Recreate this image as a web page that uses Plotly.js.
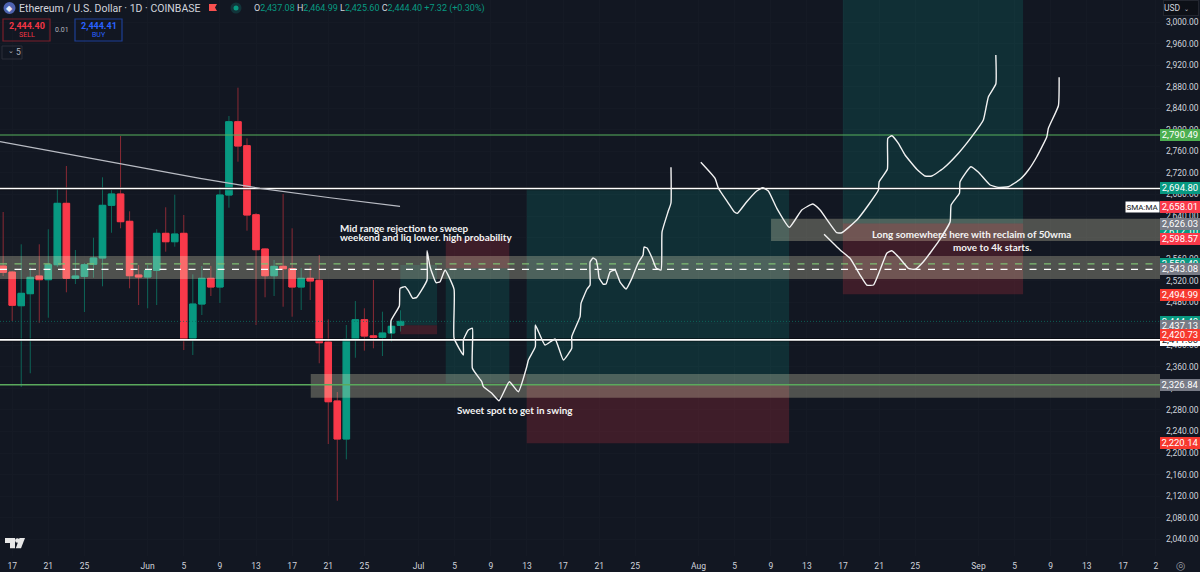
<!DOCTYPE html>
<html><head><meta charset="utf-8">
<script src="https://cdn.plot.ly/plotly-3.0.1.min.js"></script>
<style>html,body{margin:0;padding:0;background:#121722;overflow:hidden}#c{width:1200px;height:572px}</style>
</head><body><div id="c"></div>
<script>
// Candles: day number counted from 1 June (May 16 = -16)
const dayNums = [-16,-15,-14,-13,-12,-11,-10,-9,-8,-7,-6,-5,-4,-3,-2,-1,0,1,2,3,4,5,6,7,8,9,10,11,12,13,14,15,16,17,18,19,20,21,22,23,24,25,26,27,28];
const opens  = [2547.2,2536,2473.5,2495.8,2528.6,2521.8,2549.6,2663.6,2524.4,2528,2550.4,2562.1,2659.9,2680.9,2630.2,2530.5,2526.8,2539.2,2607.9,2592.3,2607.9,2413,2476.6,2524.4,2508.2,2679,2815.1,2770.6,2642.4,2578.8,2529.2,2546.6,2542.2,2508.2,2524.4,2520.7,2406.1,2296.6,2226,2411.1,2447.5,2417.5,2414.8,2422.8,2437.08];
const highs  = [2647.5,2538,2587.5,2544.8,2587.5,2615.4,2691.5,2732.9,2576.9,2552.8,2599.8,2711.9,2688.3,2788.6,2648.8,2549,2549,2615.4,2656.2,2679.6,2641.9,2531.8,2547.2,2547.2,2693.9,2825.7,2878.3,2784.3,2645.6,2580.6,2558.4,2680.9,2617.2,2543.5,2545.9,2567.6,2448.2,2313.3,2437.7,2482.2,2468.7,2521.2,2462.4,2445.1,2464.99];
const lows   = [2528.6,2445.1,2322.6,2348,2441.9,2451.2,2545.4,2498.4,2513.8,2461.8,2525.5,2509.5,2609,2617.2,2505.8,2474.8,2468.7,2474.8,2573.8,2583.1,2391.2,2382,2456.2,2491.5,2478.5,2655.5,2740.9,2612.8,2437.7,2489.1,2491.5,2471.6,2453.1,2465.5,2484.1,2366.6,2216.7,2111.4,2188.3,2376.9,2390,2394.4,2380.1,2406.7,2425.6];
const closes = [2535.5,2474.3,2496.5,2526.2,2521.8,2549.6,2663.6,2524.4,2528.6,2549.6,2562.1,2659.9,2680.9,2629.5,2529.2,2526.8,2539.2,2607.9,2592.3,2606.6,2411.7,2476.6,2524.4,2508.2,2679,2815.1,2770,2641.9,2577.5,2529.2,2546.6,2542.2,2508.2,2524.4,2519.4,2404.8,2295.2,2226,2411.1,2447.5,2417.2,2414.8,2422.8,2435.3,2444.4];

// Hand-drawn projection curves: day number / price
const curve1Days = [26.95,26.95,27.87,27.95,28.5,28.87,29.36,29.8,30.35,30.94,30.94,31.27,31.94,32.38,32.93,33.93,33.93,34.96,34.96,35.51,35.96,35.96,37,37.18,38.11,38.91,40.05,41.05,41.98,42.16,42.93,42.93,44,45.11,46.03,46.96,46.96,47.88,47.99,48.66,48.99,48.99,49.32,49.66,49.88,49.99,50.43,50.76,51.2,51.76,52.31,52.98,53.64,54.31,54.86,54.97,55.3,55.86,56.3,56.85,56.96,57.62,57.95,57.95];
const curve1Prices = [2422.3,2445.7,2473,2505.8,2508.8,2501.4,2487.2,2489.1,2502.7,2521.2,2575.6,2545.9,2516.2,2518.1,2539.8,2504,2413,2382,2409.8,2428.4,2431.5,2357.3,2332.4,2323.1,2310.9,2297.1,2332.4,2313.8,2360.2,2372.7,2397.4,2437.7,2400.5,2411.7,2372.7,2394.4,2416,2453.1,2478,2504.5,2511.9,2554.6,2562.1,2558.4,2539.8,2525,2513.8,2513.8,2536.1,2539.8,2517.5,2504.5,2525,2552.8,2567.6,2582.5,2580.6,2562.1,2543.5,2539.8,2610.4,2647.5,2664.2,2730.5];
const curve2Days = [61.25,62.83,63.2,64.31,64.94,65.3,66.34,67.45,68.11,68.73,69.67,71.06,72.43,73.65,74.46,76.31,76.86,78.53,79.81,80.92,81,81.91,81.96,82.4,83.13,83.87,85.17,86.09,86.83,88.12,89.78,91.26,92.54,93.1,93.92,93.92];
const curve2Prices = [2739.8,2710,2691.5,2663.6,2648,2645,2666.6,2686.5,2692.6,2686.5,2654.3,2619,2651.2,2662.3,2651.2,2609,2609,2632.6,2660.5,2688.3,2703.7,2726.8,2784.3,2789.1,2775,2753.3,2726.8,2714.3,2714.3,2728.6,2756.5,2787.3,2818.3,2861.6,2885.1,2939];
const curve3Days = [74.9,76.68,77.78,78.89,79.63,80.37,81.1,81.85,82.4,83.13,84.24,84.98,85.9,87.56,88.86,88.97,89.89,89.96,91.15,92,93.29,94.2,95.31,96.61,97.53,98.46,99.57,99.74,100.85,100.93];
const curve3Prices = [2606,2576.9,2561.5,2530.5,2511.9,2511.9,2539.8,2570.8,2575.6,2564.5,2543,2541.1,2555.2,2592.3,2629.5,2660.5,2682.2,2703.7,2731.6,2721.2,2697.6,2693.3,2694.4,2708.2,2725.5,2750.1,2787.3,2802.9,2844.8,2897.6];

// Moving average
const smaDays = [-16.35,-5.27,5.8,12.44,20.2,27.95];
const smaPrices = [2778,2744,2710,2691.5,2674,2658.01];

// Horizontal levels
const levelGreenTop = 2790.49, levelWhiteTop = 2691, levelWhiteLow = 2410, levelGreenLow = 2326.84;
const levelDashGreen = 2551, levelDashWhite = 2541, levelLast = 2444.4;

// Zones: [firstDay, lastDay, lowPrice, highPrice]
const grayZones = [[-16.35,112.1,2523.1,2565.8],[69.03,112.1,2593.6,2635],[18.06,112.1,2302.7,2346.7]];
const tealZones = [[27.98,32.05,2437.13,2549],[33.01,40.05,2329.4,2543.08],[41.98,71.03,2326.84,2691],[76.98,96.94,2626.03,3060]];
const redZones  = [[27.98,32.05,2420.73,2437.13],[33.01,40.05,2543.08,2598.57],[41.98,71.03,2218,2326.84],[76.98,96.94,2494.99,2626.03]];

// Axis labels
const xTickDays = [-15,-11,-7,0,4,8,12,16,20,24,30,34,38,42,46,50,54,61,65,69,73,77,81,85,92,96,100,104,108,111.65];
const xTickText = ['17','21','25','Jun','5','9','13','17','21','25','Jul','5','9','13','17','21','25','Aug','5','9','13','17','21','25','Sep','5','9','13','17','2'];
const yTickVals = [2040,2080,2120,2160,2200,2240,2280,2320,2360,2400,2440,2480,2520,2560,2600,2640,2680,2720,2760,2800,2840,2880,2920,2960,3000];

// Price labels on the right axis, drawn in order: [price, text, kind]
const priceTags = [
 [2790.49,'2,790.49','green'],[2694.8,'2,694.80','teal'],[2658.01,'2,658.01','red'],
 [2612,'2,612.10','teal'],[2626.03,'2,626.03','gray'],[2598.57,'2,598.57','red'],
 [2552,'2,550.40','teal'],[2543.08,'2,543.08','gray'],[2494.99,'2,494.99','orange'],
 [2410,'2,411.00','white'],[2444.4,'2,444.40','teal'],[2437.13,'2,437.13','gray'],[2420.73,'2,420.73','orange'],
 [2326.84,'2,326.84','gray'],[2220.14,'2,220.14','orange']];

const W=1160,H=556;
const px=x=>x/W, py=y=>(H-y)/H;
const G='#089981',R='#f9394a';
const FONT='Roboto, sans-serif', NOTE='Lato, sans-serif';
const traces=[];
traces.push({type:'candlestick',x:dayNums,open:opens,high:highs,low:lows,close:closes,whiskerwidth:0,
  increasing:{line:{color:'#0d6558',width:1},fillcolor:'#0d6558'},decreasing:{line:{color:'#8a2a35',width:1},fillcolor:'#8a2a35'},hoverinfo:'skip'});
traces.push({type:'candlestick',x:dayNums,open:opens,close:closes,
  high:opens.map((o,i)=>Math.max(o,closes[i])),low:opens.map((o,i)=>Math.min(o,closes[i])),whiskerwidth:0,
  increasing:{line:{color:G,width:1},fillcolor:G},decreasing:{line:{color:R,width:1},fillcolor:R},hoverinfo:'skip'});
const zone=(z,c)=>({type:'scatter',mode:'lines',x:[z[0],z[1],z[1],z[0],z[0]],y:[z[2],z[2],z[3],z[3],z[2]],fill:'toself',fillcolor:c,line:{width:0},hoverinfo:'skip'});
tealZones.forEach(z=>traces.push(zone(z,'rgba(8,153,140,0.19)')));
redZones.forEach(z=>traces.push(zone(z,'rgba(242,54,69,0.2)')));
grayZones.forEach(z=>traces.push(zone(z,'rgba(255,246,205,0.26)')));
const hl=(p,c,w,dash)=>({type:'scatter',mode:'lines',x:[-16.35,112.1],y:[p,p],line:{color:c,width:w,dash:dash||'solid'},hoverinfo:'skip'});
traces.push(hl(levelLast,'#0c6f62',0.8,'1px,2px'));
traces.push(hl(levelDashGreen,'#7fbf73',1.2,'7px,7.5px'));
traces.push(hl(levelDashWhite,'#ffffff',1.2,'7px,7.5px'));
traces.push(hl(levelGreenTop,'#57b25c',1.1));
traces.push(hl(levelGreenLow,'#5aa95c',1.5));
traces.push(hl(levelWhiteTop,'rgba(0,0,0,0.55)',3.2));
traces.push(hl(levelWhiteLow,'rgba(0,0,0,0.55)',3.2));
traces.push(hl(levelWhiteTop,'#ffffff',1.6));
traces.push(hl(levelWhiteLow,'#ffffff',1.6));
traces.push({type:'scatter',mode:'lines',x:smaDays,y:smaPrices,line:{color:'#b9bcc4',width:1.2},hoverinfo:'skip'});
[[curve1Days,curve1Prices],[curve2Days,curve2Prices],[curve3Days,curve3Prices]].forEach(c=>
  traces.push({type:'scatter',mode:'lines',x:c[0],y:c[1],line:{color:'#f2f2f2',width:1.4,shape:'spline',smoothing:0.4},hoverinfo:'skip'}));

const anns=[];
const tagColor={green:['#4caf50','#fff'],teal:[G,'#fff'],red:[R,'#fff'],gray:['#787b86','#fff'],orange:['#f7392f','#fff'],white:['#ffffff','#131722']};
priceTags.forEach(t=>{const c=tagColor[t[2]];
  anns.push({xref:'paper',yref:'y',x:1,y:t[0],xanchor:'left',yanchor:'middle',showarrow:false,text:t[1],width:40,height:11.5,align:'center',valign:'middle',bgcolor:c[0],borderpad:0,borderwidth:0,font:{family:FONT,size:9.5,color:c[1]},yshift:t[1]==='2,694.80'?-1:-0.5});});
const chrome=(x,y,text,o)=>anns.push(Object.assign({xref:'paper',yref:'paper',x:px(x),y:py(y),text,showarrow:false,xanchor:'left',yanchor:'middle',borderpad:0,font:{family:FONT,size:9.5,color:'#d1d4dc'}},o||{}));
const note=(x,y,text,anchor)=>chrome(x,y,'<b>'+text+'</b>',{xanchor:anchor||'left',font:{family:NOTE,size:9.9,color:'#f4f4f4'}});
note(339,227.5,'Mid range rejection to sweep');
note(339,236.5,'weekend and liq lower. high probability');
note(456,410,'Sweet spot to get in swing');
note(871,234,'Long somewhere here with reclaim of 50wma');
note(952,247,'move to 4k starts.');
chrome(1125,207,'SMA:MA',{width:33,height:10,bgcolor:'#ffffff',align:'center',font:{family:FONT,size:8,color:'#131722'}});
chrome(1163,8,'USD  <span style="font-size:6px">⌄</span>',{font:{family:FONT,size:8.5,color:'#d1d4dc'},width:34,height:14,bgcolor:'#0d1017',bordercolor:'#23262f',borderwidth:1,align:'left'});
chrome(18,8,'Ethereum / U.S. Dollar · 1D · COINBASE',{font:{family:FONT,size:10.5,color:'#d1d4dc'}});
const n=t=>'<span style="color:#089981">'+t+'</span>';
chrome(252.5,8,'O'+n('2,437.08')+' H'+n('2,464.99')+' L'+n('2,425.60')+' C'+n('2,444.40')+' '+n('+7.32 (+0.30%)'),{font:{family:FONT,size:9,color:'#d1d4dc'}});
chrome(26.5,25.5,'<b>2,444.40</b>',{xanchor:'center',font:{family:FONT,size:9,color:'#f23645'}});
chrome(26.5,35,'SELL',{xanchor:'center',font:{family:FONT,size:7,color:'#f23645'}});
chrome(62.5,30,'0.01',{xanchor:'center',font:{family:FONT,size:7,color:'#b2b5be'}});
chrome(98.5,25.5,'<b>2,444.41</b>',{xanchor:'center',font:{family:FONT,size:9,color:'#2962ff'}});
chrome(98.5,35,'BUY',{xanchor:'center',font:{family:FONT,size:7,color:'#2962ff'}});
chrome(7,52.5,'⌄',{font:{family:FONT,size:7,color:'#b2b5be'},yshift:1});
chrome(14.5,52.5,'5',{font:{family:FONT,size:8.5,color:'#b2b5be'}});
chrome(9.5,8.5,'◆',{xanchor:'center',font:{family:'DejaVu Sans',size:8,color:'#e8ebf7'}});
chrome(1181,566,'◎',{xanchor:'center',font:{family:'DejaVu Sans',size:11,color:'#9598a1'}});

const rect=(x0,y0,x1,y1,line,fill,w)=>({type:'rect',xref:'paper',yref:'paper',x0:px(x0),x1:px(x1),y0:py(y0),y1:py(y1),line:{color:line,width:w||1},fillcolor:fill,layer:'above'});
const circ=(cx,cy,r,fill)=>({type:'circle',xref:'paper',yref:'paper',x0:px(cx-r),x1:px(cx+r),y0:py(cy+r),y1:py(cy-r),line:{width:0},fillcolor:fill,layer:'above'});
const poly=(pts,fill)=>({type:'path',xref:'paper',yref:'paper',path:'M'+pts.map(p=>px(p[0])+','+py(p[1])).join('L')+'Z',line:{width:0},fillcolor:fill,layer:'above'});
const shapes=[
 circ(9.5,8,6,'#4f63b0'),circ(236,8,5.5,'#12343a'),circ(236,8,2.5,G),
 poly([[209,4],[217,4],[215,7.5],[217,11],[209,11]],'#f9504f'),
 rect(3,19,50,41,'#7a1f2a','rgba(0,0,0,0)',1.2),rect(75,19,122,41,'#1d3f95','rgba(0,0,0,0)',1.2),
 rect(2,46,22,59,'#2a2e39','rgba(0,0,0,0)',1),
 poly([[5,538],[15,538],[15,548.3],[10,548.3],[10,543],[5,543]],'#e8e8e8'),
 poly([[19.5,538],[25,538],[21,548.3],[15.8,548.3]],'#e8e8e8'),circ(17.3,540.5,2.2,'#e8e8e8')
];
const layout={
 width:1200,height:572,margin:{l:0,r:40,t:0,b:16,pad:0},paper_bgcolor:'#121722',plot_bgcolor:'#121722',
 showlegend:false,hovermode:false,boxmode:'overlay',boxgap:0.28,boxgroupgap:0,dragmode:false,
 xaxis:{range:[-16.35,112.1],tickmode:'array',tickvals:xTickDays,ticktext:xTickText,showgrid:true,gridcolor:'#151a25',gridwidth:1,zeroline:false,showline:false,ticks:'',ticklen:0,ticklabelstandoff:3,rangeslider:{visible:false},tickangle:0,tickfont:{family:FONT,size:8.5,color:'#d1d4dc'},fixedrange:true},
 yaxis:{side:'right',range:[2008.8,3041.1],tickmode:'array',tickvals:yTickVals,ticktext:yTickVals.map(v=>v.toLocaleString('en-US',{minimumFractionDigits:2,maximumFractionDigits:2})),showgrid:true,gridcolor:'#151a25',zeroline:false,showline:false,ticks:'',ticklabelstandoff:5,tickfont:{family:FONT,size:8.5,color:'#d1d4dc'},fixedrange:true},
 annotations:anns,shapes
};
Plotly.newPlot('c',traces,layout,{displayModeBar:false,staticPlot:true});
</script></body></html>
